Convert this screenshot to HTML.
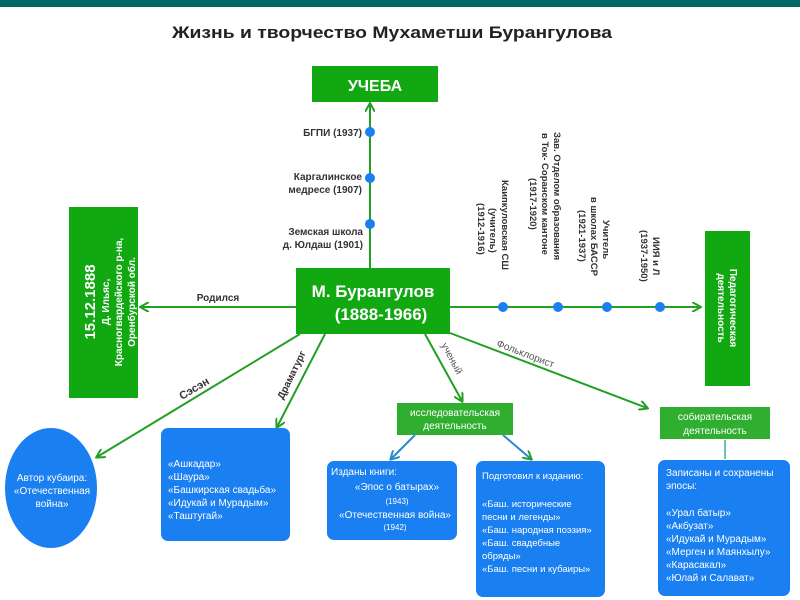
<!DOCTYPE html>
<html><head><meta charset="utf-8"><style>
body{margin:0;width:800px;height:600px;background:#fff;overflow:hidden;font-family:"Liberation Sans",sans-serif}
svg{display:block}
</style></head><body>
<svg width="800" height="600" viewBox="0 0 800 600" font-family="Liberation Sans, sans-serif">
<defs>
<marker id="ag" markerWidth="10" markerHeight="10" refX="8" refY="5" orient="auto" markerUnits="userSpaceOnUse"><path d="M0,0 L9,5 L0,10" fill="none" stroke="#22a022" stroke-width="2"/></marker>
<marker id="ab" markerWidth="10" markerHeight="10" refX="8" refY="5" orient="auto" markerUnits="userSpaceOnUse"><path d="M0,0 L9,5 L0,10" fill="none" stroke="#2a8ad0" stroke-width="2"/></marker>
</defs>
<rect x="0" y="0" width="800" height="7" fill="#006666"/>
<text x="172" y="38" font-size="17" font-weight="bold" fill="#222" textLength="440" lengthAdjust="spacingAndGlyphs">Жизнь и творчество Мухаметши Бурангулова</text>

<rect x="312" y="66" width="126" height="36" fill="#12a812"/>
<text x="375" y="91" font-size="16" font-weight="bold" fill="#fff" text-anchor="middle">УЧЕБА</text>
<line x1="370" y1="268" x2="370" y2="104" stroke="#22a022" stroke-width="2" marker-end="url(#ag)"/>
<circle cx="370" cy="132" r="5" fill="#1a7ff0"/>
<circle cx="370" cy="178" r="5" fill="#1a7ff0"/>
<circle cx="370" cy="224" r="5" fill="#1a7ff0"/>
<g font-size="10" font-weight="bold" fill="#333" text-anchor="end">
<text x="362" y="136">БГПИ (1937)</text>
<text x="362" y="180">Каргалинское</text>
<text x="362" y="193">медресе (1907)</text>
<text x="363" y="235">Земская школа</text>
<text x="363" y="248">д. Юлдаш (1901)</text>
</g>

<rect x="69" y="207" width="69" height="191" fill="#12a812"/>
<g transform="translate(103,302) rotate(-90)" fill="#fff" font-weight="bold" text-anchor="middle">
<text x="0" y="-8" font-size="15">15.12.1888</text>
<text x="0" y="6" font-size="10">Д. Ильяс,</text>
<text x="0" y="19" font-size="10">Красногвардейского р-на,</text>
<text x="0" y="32" font-size="10">Оренбурской обл.</text>
</g>
<line x1="296" y1="307" x2="141" y2="307" stroke="#22a022" stroke-width="2" marker-end="url(#ag)"/>
<text x="218" y="301" font-size="10" font-weight="bold" fill="#333" text-anchor="middle">Родился</text>

<rect x="296" y="268" width="154" height="66" fill="#12a812"/>
<text x="373" y="297" font-size="17" font-weight="bold" fill="#fff" text-anchor="middle">М. Бурангулов</text>
<text x="381" y="320" font-size="17" font-weight="bold" fill="#fff" text-anchor="middle">(1888-1966)</text>

<line x1="450" y1="307" x2="700" y2="307" stroke="#22a022" stroke-width="2" marker-end="url(#ag)"/>
<circle cx="503" cy="307" r="5" fill="#1a7ff0"/>
<circle cx="558" cy="307" r="5" fill="#1a7ff0"/>
<circle cx="607" cy="307" r="5" fill="#1a7ff0"/>
<circle cx="660" cy="307" r="5" fill="#1a7ff0"/>
<g font-size="9.5" font-weight="bold" fill="#333">
<text transform="translate(502,180) rotate(90)">Каипкуловская СШ</text>
<text transform="translate(490,208) rotate(90)">(учитель)</text>
<text transform="translate(478,203) rotate(90)">(1912-1916)</text>

<text transform="translate(554,132) rotate(90)">Зав. Отделом образования</text>
<text transform="translate(542,133) rotate(90)">в Ток- Соранском кантоне</text>
<text transform="translate(530,178) rotate(90)">(1917-1920)</text>

<text transform="translate(603,220) rotate(90)">Учитель</text>
<text transform="translate(591,197) rotate(90)">в школах БАССР</text>
<text transform="translate(579,210) rotate(90)">(1921-1937)</text>

<text transform="translate(653,237) rotate(90)">ИИЯ и Л</text>
<text transform="translate(641,230) rotate(90)">(1937-1950)</text>
</g>
<rect x="705" y="231" width="45" height="155" fill="#12a812"/>
<g transform="translate(727,308) rotate(90)" fill="#fff" font-size="10" font-weight="bold" text-anchor="middle">
<text x="0" y="-3">Педагогическая</text>
<text x="0" y="9">деятельность</text>
</g>

<line x1="300" y1="334" x2="97" y2="457" stroke="#22a022" stroke-width="2" marker-end="url(#ag)"/>
<text transform="translate(182,400) rotate(-31)" font-size="11" font-weight="bold" fill="#333">Сэсэн</text>
<line x1="325" y1="334" x2="277" y2="427" stroke="#22a022" stroke-width="2" marker-end="url(#ag)"/>
<text transform="translate(283,400) rotate(-64)" font-size="10" font-weight="bold" fill="#333">Драматург</text>
<line x1="425" y1="334" x2="462" y2="401" stroke="#22a022" stroke-width="2" marker-end="url(#ag)"/>
<text transform="translate(441,345) rotate(62)" font-size="10" fill="#555">ученый</text>
<line x1="450" y1="333" x2="647" y2="408" stroke="#22a022" stroke-width="2" marker-end="url(#ag)"/>
<text transform="translate(496,346) rotate(21)" font-size="10" fill="#555">Фольклорист</text>

<rect x="397" y="403" width="116" height="32" fill="#2fae2f"/>
<text x="455" y="416" font-size="10" fill="#fff" text-anchor="middle">исследовательская</text>
<text x="455" y="429" font-size="10" fill="#fff" text-anchor="middle">деятельность</text>
<line x1="415" y1="435" x2="391" y2="459" stroke="#2a8ad0" stroke-width="2" marker-end="url(#ab)"/>
<line x1="503" y1="435" x2="531" y2="459" stroke="#2a8ad0" stroke-width="2" marker-end="url(#ag)"/>

<rect x="660" y="407" width="110" height="32" fill="#2fae2f"/>
<text x="715" y="420" font-size="10" fill="#fff" text-anchor="middle">собирательская</text>
<text x="715" y="434" font-size="10" fill="#fff" text-anchor="middle">деятельность</text>
<line x1="725" y1="440" x2="725" y2="459" stroke="#3bb09a" stroke-width="1.5"/>

<ellipse cx="51" cy="488" rx="46" ry="60" fill="#1a7ff0"/>
<g font-size="10" fill="#fff" text-anchor="middle">
<text x="52" y="481">Автор кубаира:</text>
<text x="52" y="494">«Отечественная</text>
<text x="52" y="507">война»</text>
</g>
<rect x="161" y="428" width="129" height="113" rx="7" fill="#1a7ff0"/>
<g font-size="10" fill="#fff">
<text x="168" y="467">«Ашкадар»</text>
<text x="168" y="480">«Шаура»</text>
<text x="168" y="493">«Башкирская свадьба»</text>
<text x="168" y="506">«Идукай и Мурадым»</text>
<text x="168" y="519">«Таштугай»</text>
</g>
<rect x="327" y="461" width="130" height="79" rx="7" fill="#1a7ff0"/>
<g font-size="10" fill="#fff" text-anchor="middle">
<text x="364" y="475">Изданы книги:</text>
<text x="397" y="490">«Эпос о батырах»</text>
<text x="397" y="504" font-size="8">(1943)</text>
<text x="395" y="518">«Отечественная война»</text>
<text x="395" y="530" font-size="8">(1942)</text>
</g>
<rect x="476" y="461" width="129" height="136" rx="7" fill="#1a7ff0"/>
<g font-size="9.5" fill="#fff">
<text x="482" y="479">Подготовил к изданию:</text>
<text x="482" y="507">«Баш. исторические</text>
<text x="482" y="520">песни и легенды»</text>
<text x="482" y="533">«Баш. народная поэзия»</text>
<text x="482" y="546">«Баш. свадебные</text>
<text x="482" y="559">обряды»</text>
<text x="482" y="572">«Баш. песни и кубаиры»</text>
</g>
<rect x="658" y="460" width="132" height="136" rx="7" fill="#1a7ff0"/>
<g font-size="10" fill="#fff">
<text x="666" y="476">Записаны и сохранены</text>
<text x="666" y="489">эпосы:</text>
<text x="666" y="516">«Урал батыр»</text>
<text x="666" y="529">«Акбузат»</text>
<text x="666" y="542">«Идукай и Мурадым»</text>
<text x="666" y="555">«Мерген и Маянхылу»</text>
<text x="666" y="568">«Карасакал»</text>
<text x="666" y="581">«Юлай и Салават»</text>
</g>
</svg>
</body></html>
